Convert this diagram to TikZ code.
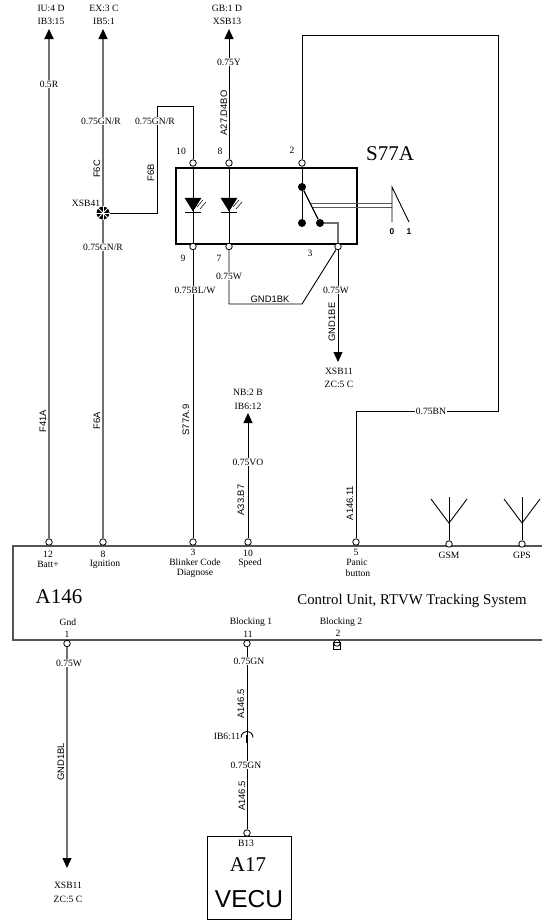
\documentclass[tikz,border=0pt]{standalone}
\usepackage{fontspec}
\setmainfont{Liberation Serif}
\setsansfont{Liberation Sans}
\usetikzlibrary{arrows.meta}
\definecolor{wiregrey}{HTML}{707070}
\definecolor{boxgrey}{HTML}{555555}
\tikzset{
  x=1bp,y=-1bp,
  lbl/.style={font=\fontsize{9.6bp}{10bp}\selectfont,inner sep=0.6bp,fill=white},
  plain/.style={font=\fontsize{9.6bp}{10bp}\selectfont,inner sep=0pt},
  rot/.style={font=\sffamily\fontsize{9.4bp}{10bp}\selectfont,inner sep=0.5bp,rotate=90,fill=white},
  big/.style={font=\fontsize{21bp}{23bp}\selectfont,inner sep=0pt},
  pin/.style={circle,draw=black,fill=white,line width=0.8bp,minimum size=6.5bp,inner sep=0pt},
  wire/.style={draw=black,line width=0.9bp},
  gwire/.style={draw=wiregrey,line width=1.2bp},
  hgwire/.style={draw=wiregrey,line width=1.8bp},
  tip/.style={-{Triangle[width=9bp,length=10bp,fill=black,color=black]}},
  led/.style={fill=black,draw=black,line width=0.5bp},
  dot/.style={circle,fill=black,minimum size=8bp,inner sep=0pt},
  thin ray/.style={draw=black,line width=0.5bp},
}
\begin{document}
\begin{tikzpicture}
\useasboundingbox (0,0) rectangle (542,920);
% A146 box
\draw[draw=boxgrey,line width=1.4bp] (542,546) -- (13,546) -- (13,640) -- (542,640);
% S77A box
\node[draw=black,line width=1.7bp,minimum width=181bp,minimum height=76bp,inner sep=0pt,anchor=north west] (sbox) at (175,167) {};
% A17 box
\node[draw=black,line width=1bp,minimum width=84bp,minimum height=83bp,inner sep=0pt,anchor=north west] (vecu) at (207,836) {};
% pins
\node[pin] (p10) at (193,163) {};
\node[pin] (p8) at (229,163) {};
\node[pin] (p2) at (302,163) {};
\node[pin] (p9) at (193,246.5) {};
\node[pin] (p7) at (229,246.5) {};
\node[pin] (p3) at (338,246.5) {};
\node[pin] (a12) at (49,542) {};
\node[pin] (a8) at (103,542) {};
\node[pin] (a3) at (193,542) {};
\node[pin] (a10) at (248,542) {};
\node[pin] (a5) at (356,542) {};
\node[pin] (agsm) at (449,544) {};
\node[pin] (agps) at (522,544) {};
\node[pin] (a1) at (67,643.5) {};
\node[pin] (a11) at (247,643.5) {};
\node[pin] (a2) at (337,643) {};
\node[pin] (b13) at (247,833) {};
% junction
\node[circle,fill=black,minimum size=13bp,inner sep=0pt] (xsb) at (103,213) {};
\foreach \a in {0,45,90,135}{
  \draw[white,line width=0.9bp] (xsb.\a) ++(0,0) -- (xsb.\a+180);
}
% free ends
\coordinate (t49) at (49,29);
\coordinate (t103) at (103,29);
\coordinate (t229) at (229,29);
\coordinate (t248) at (248,413);
\coordinate (t338) at (338,362);
\coordinate (t67) at (67,868);
\coordinate (c1) at (302,35);
\coordinate (c2) at (498,35);
\coordinate (c3) at (498,411);
\coordinate (c4) at (356,411);
\coordinate (gk1) at (229,304);
\coordinate (gk2) at (302,304);
\coordinate (f1) at (157,213);
\coordinate (f2) at (157,106);
\coordinate (f3) at (193,106);
\coordinate (ib) at (247,735);
% wires
\draw[hgwire,tip] (a12) -- (t49);
\draw[gwire,tip] (xsb) -- (t103);
\draw[gwire] (a8) -- (xsb);
\draw[wire] (xsb) -- (f1) -- (f2) -- (f3) -- (p10);
\draw[wire,tip] (p8) -- (t229);
\draw[wire] (p2) -- (c1) -- (c2) -- (c3) -- (c4) -- (a5);
\draw[wire] (p9) -- (a3);
\draw[wire] (p7) -- (gk1) -- (gk2) -- (p3);
\draw[wire,tip] (p3) -- (t338);
\draw[wire,tip] (a10) -- (t248);
\draw[gwire,tip] (a1) -- (t67);
\draw[wire] (a11) -- (ib);
\draw[wire] (ib) -- (b13);
% IB6:11 connector
\draw[wire] (241,737.5) arc[start angle=180,end angle=0,radius=6bp];
\draw[draw=black,line width=1.6bp] (247,735) -- (247,743);
% internal lines
\node[dot] (s1) at (302,187) {};
\node[dot] (s2) at (302,223) {};
\node[dot] (s3) at (320,223) {};
\coordinate (s4) at (338,223);
\draw[wire] (p10) -- (p9);
\draw[wire] (p8) -- (p7);
\draw[wire] (p2) -- (s1);
\draw[wire] (s1) -- (s2);
\draw[draw=black,line width=1.2bp] (s1) -- (s3);
\draw[gwire] (s3) -- (s4) -- (p3);
% LEDs
\foreach \x in {193,229}{
  \fill[led] (\x-8,198) -- (\x+8,198) -- (\x,211) -- cycle;
  \draw[draw=black,line width=1bp] (\x-8,212) -- (\x+8,212);
  \draw[thin ray] (\x+4,207) -- (\x+10,200);
  \draw[thin ray] (\x+7,209) -- (\x+13,202);
}
% lever
\coordinate (l0) at (392,187);
\coordinate (l1) at (392,222);
\coordinate (l2) at (409,222);
\draw[draw=wiregrey!80!black,line width=0.9bp] (311,203) -- (392,203);
\draw[draw=wiregrey!80!black,line width=0.9bp] (313,207) -- (392,207);
\draw[draw=black,line width=0.9bp] (l1) -- (l0) -- (l2);
\node[font=\sffamily\bfseries\fontsize{8.5bp}{9bp}\selectfont,inner sep=0pt] (n0) at (392,232) {0};
\node[font=\sffamily\bfseries\fontsize{8.5bp}{9bp}\selectfont,inner sep=0pt] (n1) at (409,232) {1};
% antennas
\foreach \n/\x in {agsm/449,agps/522}{
  \draw[draw=black,line width=0.9bp] (\n) -- (\x,497);
  \draw[draw=black,line width=0.9bp] (\x-18,499) -- (\x,523) -- (\x+18,499);
}
% Blocking 2 small box
\draw[draw=black,line width=0.8bp] (333.5,642.5) rectangle (340.5,649);
% wire labels
\node[plain] (l01) at (51,8) {IU:4 D};
\node[plain] (l02) at (51,21) {IB3:15};
\node[plain] (l03) at (104,8) {EX:3 C};
\node[plain] (l04) at (104,21) {IB5:1};
\node[plain] (l05) at (227,8) {GB:1 D};
\node[plain] (l06) at (227,21) {XSB13};
\node[lbl] (l07) at (49,84) {0.5R};
\node[lbl] (l08) at (101,121) {0.75GN/R};
\node[lbl] (l09) at (155,121) {0.75GN/R};
\node[rot] (l10) at (97,169) {F6C};
\node[rot] (l11) at (151,173) {F6B};
\node[plain] (l12) at (86,203) {XSB41};
\node[lbl] (l13) at (103,247) {0.75GN/R};
\node[lbl] (l14) at (229,62) {0.75Y};
\node[rot] (l15) at (224,113) {A27.D4BO};
\node[plain] (l16) at (181,151) {10};
\node[plain] (l17) at (220,151) {8};
\node[plain] (l18) at (183,258) {9};
\node[plain] (l19) at (219,258) {7};
\node[lbl] (l20) at (229,276) {0.75W};
\node[plain] (l21) at (292,150) {2};
\node[big] (l22) at (390,154) {S77A};
\node[plain] (l23) at (310,253) {3};
\node[lbl] (l24) at (195,290) {0.75BL/W};
\node[font=\sffamily\fontsize{9.4bp}{10bp}\selectfont,inner sep=0pt] (l25) at (270,299) {GND1BK};
\node[lbl] (l26) at (336,290) {0.75W};
\node[rot] (l27) at (332,322) {GND1BE};
\node[plain] (l28) at (339,371) {XSB11};
\node[plain] (l29) at (339,384) {ZC:5 C};
\node[rot] (l30) at (186,420) {S77A.9};
\node[rot] (l31) at (97,421) {F6A};
\node[rot] (l32) at (43,421) {F41A};
\node[plain] (l33) at (248,392) {NB:2 B};
\node[plain] (l34) at (248,406) {IB6:12};
\node[lbl] (l35) at (248,462) {0.75VO};
\node[rot] (l36) at (241,500) {A33.B7};
\node[rot] (l37) at (350,503) {A146.11};
\node[lbl] (l38) at (431,411) {0.75BN};
% A146 labels
\node[plain] (m01) at (48,554) {12};
\node[plain] (m02) at (48,564) {Batt+};
\node[plain] (m03) at (103,554) {8};
\node[plain] (m04) at (105,564) {Ignition};
\node[plain] (m05) at (193,552.5) {3};
\node[plain] (m06) at (195,562) {Blinker Code};
\node[plain] (m07) at (195,573) {Diagnose};
\node[plain] (m08) at (248,553) {10};
\node[plain] (m09) at (250,563) {Speed};
\node[plain] (m10) at (356,552.5) {5};
\node[plain] (m11) at (357,562) {Panic};
\node[plain] (m12) at (358,573) {button};
\node[plain] (m13) at (449,555) {GSM};
\node[plain] (m14) at (522,555) {GPS};
\node[big] (m15) at (59,597) {A146};
\node[font=\fontsize{14.8bp}{16bp}\selectfont,inner sep=0pt] (m16) at (412,601) {Control Unit, RTVW Tracking System};
\node[plain] (m17) at (68,622) {Gnd};
\node[plain] (m18) at (67,634) {1};
\node[plain] (m19) at (251,622) {Blocking 1};
\node[plain] (m20) at (248,634) {11};
\node[plain] (m21) at (341,622) {Blocking 2};
\node[plain] (m22) at (338,633) {2};
% lower labels
\node[lbl] (d01) at (69,663) {0.75W};
\node[lbl] (d02) at (249,661) {0.75GN};
\node[rot] (d03) at (241,704) {A146.5};
\node[plain] (d04) at (227,736) {IB6:11};
\node[lbl] (d05) at (246,765) {0.75GN};
\node[rot] (d06) at (242,796) {A146.5};
\node[rot] (d07) at (61,762) {GND1BL};
\node[plain] (d08) at (68,885) {XSB11};
\node[plain] (d09) at (68,899) {ZC:5 C};
\node[plain] (d10) at (246,843) {B13};
\node[big] (d11) at (248,865) {A17};
\node[font=\sffamily\fontsize{24.5bp}{27bp}\selectfont,inner sep=0pt] (d12) at (249,899) {VECU};
\end{tikzpicture}
\end{document}
